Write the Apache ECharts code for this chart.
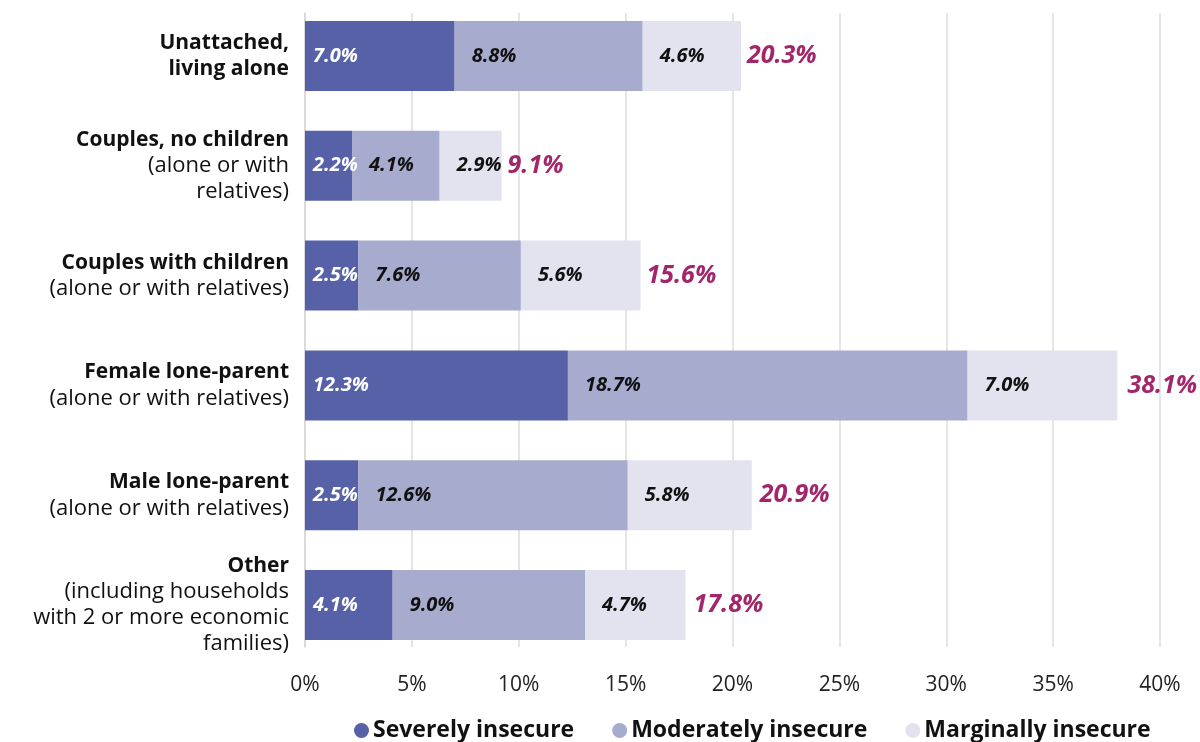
<!DOCTYPE html>
<html><head><meta charset="utf-8">
<script src="https://cdn.jsdelivr.net/npm/echarts@6/dist/echarts.min.js"></script>
<style>html,body{margin:0;padding:0;background:#fff}#c{width:1200px;height:742px}</style>
</head><body><div id="c"></div>
<script>
const categories = [
  ['Unattached,', 'living alone'],
  ['Couples, no children', '(alone or with', 'relatives)'],
  ['Couples with children', '(alone or with relatives)'],
  ['Female lone-parent', '(alone or with relatives)'],
  ['Male lone-parent', '(alone or with relatives)'],
  ['Other', '(including households', 'with 2 or more economic', 'families)']
];
const boldLines = [2, 1, 1, 1, 1, 1];
const severe = [7.0, 2.2, 2.5, 12.3, 2.5, 4.1];
const moderate = [8.8, 4.1, 7.6, 18.7, 12.6, 9.0];
const marginal = [4.6, 2.9, 5.6, 7.0, 5.8, 4.7];
const totals = [20.3, 9.1, 15.6, 38.1, 20.9, 17.8];
const xTicks = [0, 5, 10, 15, 20, 25, 30, 35, 40];

const FONT = '"Open Sans", "Noto Sans", sans-serif';
const catNames = categories.map(c => c.join('\n'));
const catIdx = {};
categories.forEach((c, i) => { catIdx[c.join('\n')] = i; });

function segLabel(color, dist) {
  return {
    show: true, position: 'insideLeft', distance: dist,
    color: color, fontFamily: FONT, fontSize: 20, fontWeight: 'bold', fontStyle: 'italic',
    formatter: p => p.value.toFixed(1) + '%'
  };
}

const chart = echarts.init(document.getElementById('c'), null, {renderer: 'canvas'});
chart.setOption({
  animation: false,
  textStyle: {fontFamily: FONT},
  grid: [
    {left: 305, right: 40, top: 1, bottom: 82, containLabel: false},
    {left: 305, right: 40, top: 13, bottom: 95, containLabel: false}
  ],
  legend: {
    top: 714, left: 349, itemGap: 38, itemWidth: 15, itemHeight: 15, icon: 'circle',
    data: ['Severely insecure', 'Moderately insecure', 'Marginally insecure'],
    textStyle: {fontFamily: FONT, fontSize: 23, fontWeight: 'bold', color: '#111', padding: [0, 0, 0, -1]}
  },
  xAxis: [
    {
      type: 'value', gridIndex: 0, min: 0, max: 40, interval: 5,
      axisLine: {show: false}, axisTick: {show: false}, splitLine: {show: false},
      axisLabel: {formatter: v => xTicks.includes(v) ? v + '%' : '', fontFamily: FONT, fontSize: 21, color: '#222', margin: 15}
    },
    {
      type: 'value', gridIndex: 1, min: 0, max: 40, interval: 5,
      axisLine: {show: false}, axisTick: {show: false}, axisLabel: {show: false},
      splitLine: {show: true, lineStyle: {color: '#dddddd', width: 1.5}}
    }
  ],
  yAxis: [
    {
      type: 'category', gridIndex: 0, data: catNames, inverse: true, z: 3,
      axisLine: {show: false},
      axisTick: {show: false},
      axisLabel: {
        margin: 16, align: 'right',
        formatter: v => {
          const i = catIdx[v];
          return categories[i].map((s, k) => k < boldLines[i] ? '{b|' + s + '}' : '{n|' + s + '}').join('\n');
        },
        rich: {
          b: {fontFamily: FONT, fontSize: 21, fontWeight: 'bold', color: '#111', lineHeight: 26, align: 'right'},
          n: {fontFamily: FONT, fontSize: 22, color: '#111', lineHeight: 26, align: 'right'}
        }
      }
    },
    {
      type: 'value', gridIndex: 1, min: 0, max: 1,
      axisLine: {show: true, lineStyle: {color: '#d6d6d6', width: 1.5}},
      axisTick: {show: false}, axisLabel: {show: false}, splitLine: {show: false}
    }
  ],
  series: [
    {name: 'Severely insecure', type: 'bar', stack: 's', barWidth: 70, data: severe,
     itemStyle: {color: '#5661a8'}, label: segLabel('#ffffff', 8)},
    {name: 'Moderately insecure', type: 'bar', stack: 's', barWidth: 70, data: moderate,
     itemStyle: {color: '#a7abcd'}, label: segLabel('#111111', 17)},
    {name: 'Marginally insecure', type: 'bar', stack: 's', barWidth: 70, data: marginal,
     itemStyle: {color: '#e3e3ef'}, label: segLabel('#111111', 17)},
    {name: 'Total', type: 'bar', barWidth: 70, barGap: '-100%', data: totals, z: 1, silent: true,
     itemStyle: {color: 'rgba(0,0,0,0)'},
     label: {show: true, position: 'right', distance: 8, color: '#a2266a', fontFamily: FONT,
       fontSize: 25, fontWeight: 'bold', fontStyle: 'italic', formatter: p => p.value.toFixed(1) + '%'}}
  ]
});
</script></body></html>
